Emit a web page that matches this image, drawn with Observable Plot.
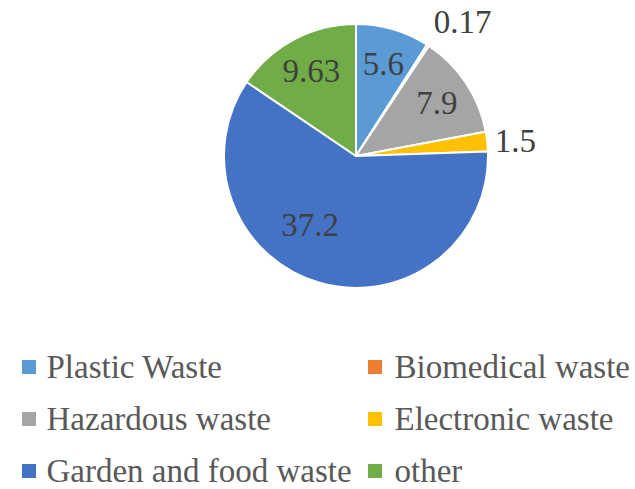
<!DOCTYPE html>
<html>
<head>
<meta charset="utf-8">
<script src="https://cdn.jsdelivr.net/npm/d3@7"></script>
<script src="https://cdn.jsdelivr.net/npm/@observablehq/plot@0.6"></script>
<style>
  html, body { margin: 0; padding: 0; background: #ffffff; }
  #chart svg { display: block; }
</style>
</head>
<body>
<div id="chart"></div>
<script>
// ---- data ----
const categories = ["Plastic Waste", "Biomedical waste", "Hazardous waste", "Electronic waste", "Garden and food waste", "other"];
const values = [5.6, 0.17, 7.9, 1.5, 37.2, 9.63];
const valueLabels = ["5.6", "0.17", "7.9", "1.5", "37.2", "9.63"];
const colors = ["#5B9BD5", "#ED7D31", "#A5A5A5", "#FFC000", "#4472C4", "#70AD47"];

// ---- layout / style ----
const W = 635, H = 489;
const cx = 356, cy = 156, R = 132;
const FONT = "'Liberation Serif', 'Times New Roman', serif";
const FS = 33;

const rows = categories.map((name, i) => ({name, value: values[i], label: valueLabels[i], i}));
const color = Plot.scale({color: {type: "ordinal", domain: categories, range: colors}});
const arcs = d3.pie().sort(null).value(d => d.value)(rows);

// label placement (Excel "best fit"-like)
const placement = {
  "Biomedical waste": {outside: true, r: R + 10, da: 0, dy: -15},
  "Electronic waste": {outside: true, r: R + 7, da: 0, dy: 0},
  "Garden and food waste": {outside: false, r: R * 0.63, da: 0.31, dy: 0}
};
const labelRows = arcs.map(a => {
  const p = placement[a.data.name] || {outside: false, r: R * 0.73, da: 0, dy: 0};
  const ang = (a.startAngle + a.endAngle) / 2 + p.da;
  return {
    label: a.data.label,
    x: cx + p.r * Math.sin(ang),
    y: cy - p.r * Math.cos(ang) + p.dy,
    outside: p.outside
  };
});

// legend rows
const legendRows = rows.map(d => {
  const col = d.i % 2, row = Math.floor(d.i / 2);
  return {
    name: d.name,
    sx: [22, 368][col],
    tx: [46, 394][col],
    y: 367 + row * 52
  };
});

function pieMark(index, scales, vals, dimensions, context) {
  const k = scales.x(1) - scales.x(0);
  const g = d3.create("svg:g")
    .attr("transform", `translate(${scales.x(cx)},${scales.y(cy)})`);
  const arc = d3.arc().innerRadius(0).outerRadius(R * k);
  g.selectAll("path")
    .data(arcs)
    .join("path")
    .attr("d", arc)
    .attr("fill", d => color.apply(d.data.name))
    .attr("stroke", "#ffffff")
    .attr("stroke-width", 2)
    .attr("stroke-linejoin", "round");
  return g.node();
}

const plot = Plot.plot({
  width: W,
  height: H,
  margin: 0,
  x: {domain: [0, W], range: [0, W], axis: null},
  y: {domain: [0, H], range: [0, H], axis: null},
  style: {background: "#ffffff", overflow: "visible"},
  marks: [
    pieMark,
    Plot.text(labelRows.filter(d => !d.outside), {
      x: "x", y: "y", text: "label",
      fill: "#404040", fontSize: FS, fontFamily: FONT, textAnchor: "middle"
    }),
    Plot.text(labelRows.filter(d => d.outside), {
      x: "x", y: "y", text: "label",
      fill: "#404040", fontSize: FS, fontFamily: FONT, textAnchor: "start"
    }),
    Plot.rect(legendRows, {
      x1: "sx", x2: d => d.sx + 14, y1: d => d.y - 7, y2: d => d.y + 7,
      fill: d => color.apply(d.name)
    }),
    Plot.text(legendRows, {
      x: "tx", y: "y", text: "name",
      fill: "#595959", fontSize: FS, fontFamily: FONT, textAnchor: "start"
    })
  ]
});
document.getElementById("chart").appendChild(plot);
</script>
</body>
</html>
